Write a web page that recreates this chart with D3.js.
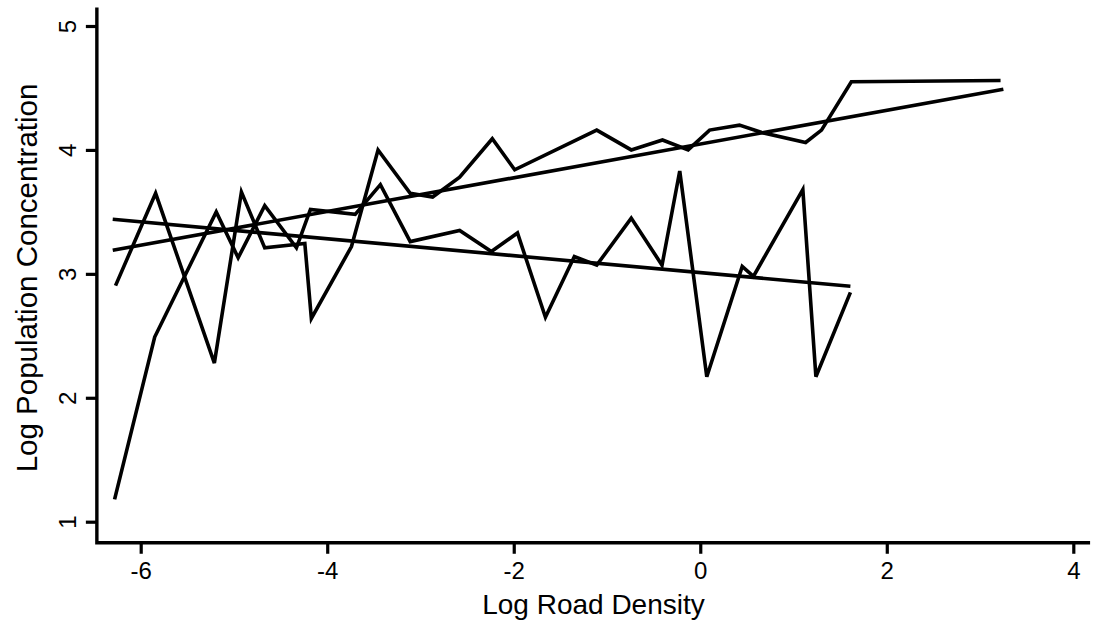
<!DOCTYPE html>
<html>
<head>
<meta charset="utf-8">
<script src="https://cdn.jsdelivr.net/npm/d3@7"></script>
<style>
  html, body { margin: 0; padding: 0; background: #fff; }
  svg { display: block; }
  text { font-family: "Liberation Sans", Arial, Helvetica, sans-serif; fill: #000; }
</style>
</head>
<body>
<svg id="chart" width="1093" height="637"></svg>
<script>
// ---- data ----
const xTicks = [-6, -4, -2, 0, 2, 4];
const yTicks = [1, 2, 3, 4, 5];

// upper zigzag series (ends high at the right)
const upperX = [-6.27, -5.84, -5.21, -4.92, -4.67, -4.24, -4.17, -3.74, -3.455, -3.11, -2.87, -2.58, -2.23, -1.99, -1.11, -0.74, -0.405, -0.13, 0.10, 0.42, 0.66, 1.13, 1.30, 1.62, 3.22];
const upperY = [2.905, 3.65, 2.28, 3.66, 3.21, 3.245, 2.64, 3.22, 4.00, 3.65, 3.62, 3.78, 4.09, 3.84, 4.16, 4.00, 4.08, 4.00, 4.16, 4.20, 4.14, 4.06, 4.16, 4.55, 4.56];

// lower zigzag series (ends at x ~ 1.6)
const lowerX = [-6.28, -5.85, -5.19, -4.955, -4.67, -4.33, -4.18, -3.70, -3.43, -3.11, -2.58, -2.24, -1.96, -1.66, -1.35, -1.11, -0.74, -0.41, -0.22, 0.07, 0.45, 0.57, 1.10, 1.24, 1.61];
const lowerY = [1.18, 2.49, 3.50, 3.13, 3.55, 3.21, 3.52, 3.48, 3.72, 3.26, 3.35, 3.18, 3.33, 2.65, 3.14, 3.07, 3.45, 3.07, 3.83, 2.17, 3.06, 2.98, 3.68, 2.17, 2.85];

// fitted straight lines (end points)
const fitUpX = [-6.30, 3.25];
const fitUpY = [3.19, 4.49];
const fitDownX = [-6.30, 1.61];
const fitDownY = [3.44, 2.90];

const xTitle = "Log Road Density";
const yTitle = "Log Population Concentration";

// ---- drawing ----
const svg = d3.select("#chart");
const x = d3.scaleLinear().domain([-6, 4]).range([140.7, 1073.3]);
const y = d3.scaleLinear().domain([1, 5]).range([521.7, 26]);

const xMin = -6.47, xMax = 4.18, yMin = 0.83, yMax = 5.15;

const line = d3.line().x(d => x(d[0])).y(d => y(d[1]));
const zip = (a, b) => a.map((v, i) => [v, b[i]]);

const series = [
  zip(fitUpX, fitUpY),
  zip(fitDownX, fitDownY),
  zip(upperX, upperY),
  zip(lowerX, lowerY)
];

svg.append("g").selectAll("path").data(series).join("path")
  .attr("d", line)
  .attr("fill", "none")
  .attr("stroke", "#000")
  .attr("stroke-width", 3.6)
  .attr("stroke-linejoin", "miter")
  .attr("stroke-miterlimit", 4);

// axes
const xAxis = d3.axisBottom(x).tickValues(xTicks).tickSize(11).tickPadding(8)
  .tickFormat(d => d < 0 ? "-" + Math.abs(d) : String(d));
const gx = svg.append("g").attr("transform", `translate(0,${y(yMin)})`).call(xAxis);
gx.select(".domain").remove();
gx.selectAll(".tick line").attr("stroke", "#000").attr("stroke-width", 3.2);
gx.selectAll(".tick text").attr("font-size", 24).attr("font-family", null);

const yAxis = d3.axisLeft(y).tickValues(yTicks).tickSize(11).tickFormat(d3.format("d"));
const gy = svg.append("g").attr("transform", `translate(${x(xMin)},0)`).call(yAxis);
gy.select(".domain").remove();
gy.selectAll(".tick line").attr("stroke", "#000").attr("stroke-width", 3.2);
gy.selectAll(".tick text")
  .attr("font-size", 24).attr("font-family", null)
  .attr("x", null).attr("dy", null)
  .attr("text-anchor", "middle")
  .attr("transform", "translate(-21,0) rotate(-90)")
  .attr("dy", "0");

// axis lines
svg.append("path")
  .attr("d", `M${x(xMin)},${y(yMax)}V${y(yMin)}H${x(xMax)}`)
  .attr("fill", "none").attr("stroke", "#000").attr("stroke-width", 3.4);

// titles
svg.append("text")
  .attr("x", (x(xMin) + x(xMax)) / 2)
  .attr("y", 614)
  .attr("text-anchor", "middle")
  .attr("font-size", 28)
  .text(xTitle);

svg.append("text")
  .attr("transform", `translate(37,${278}) rotate(-90)`)
  .attr("text-anchor", "middle")
  .attr("font-size", 29.5)
  .text(yTitle);
</script>
</body>
</html>
